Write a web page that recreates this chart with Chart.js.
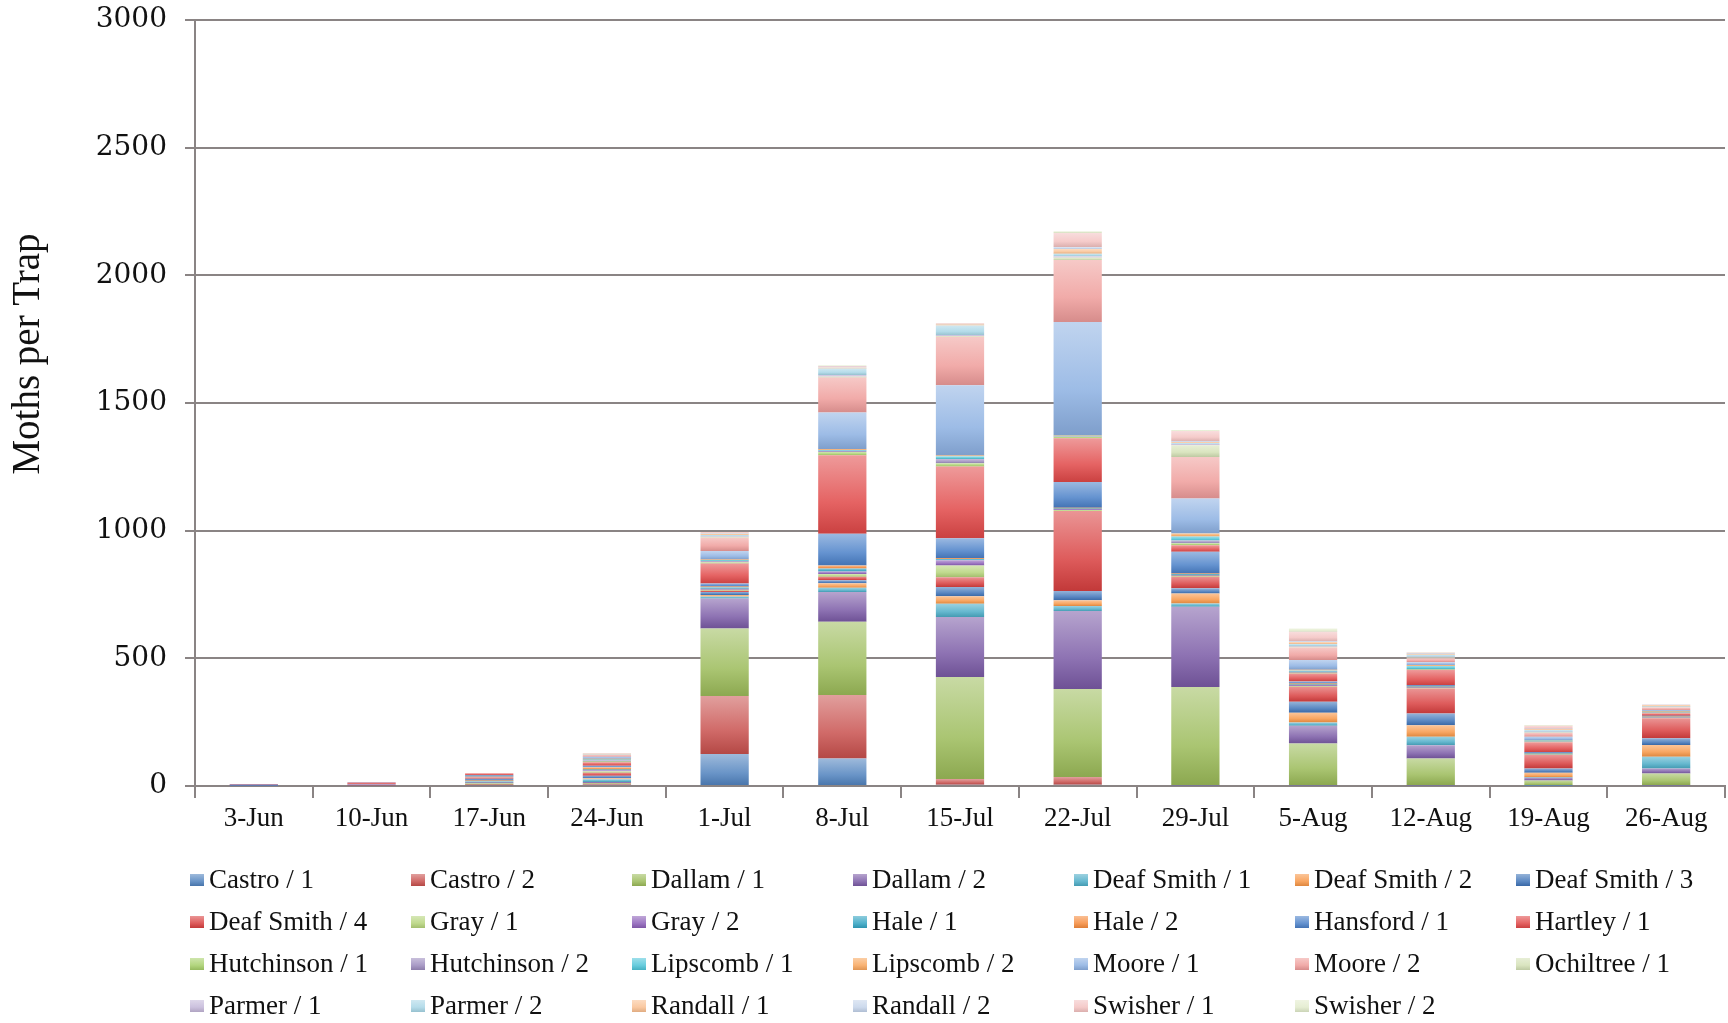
<!DOCTYPE html>
<html>
<head>
<meta charset="utf-8">
<script src="https://cdn.jsdelivr.net/npm/chart.js@4.4.0/dist/chart.umd.min.js"></script>
<style>
html,body{margin:0;padding:0;background:#fff}
#wrap{width:1728px;height:1023px;position:relative}
</style>
</head>
<body>
<div id="wrap"><canvas id="chart"></canvas></div>
<script>
// categories (trap weeks)
var weeks=["3-Jun","10-Jun","17-Jun","24-Jun","1-Jul","8-Jul","15-Jul","22-Jul","29-Jul","5-Aug","12-Aug","19-Aug","26-Aug"];
var yTicks=[0,500,1000,1500,2000,2500,3000];

// moths per trap, one array per county / trap
var castro1   =[1,0,3,5,125,108,5,5,2,2,2,1,2];
var castro2   =[1,3,3,4,227,248,22,30,2,2,2,1,2];
var dallam1   =[0,0,5,3,265,287,400,345,384,162,104,20,45];
var dallam2   =[2,4,3,4,117,117,235,305,314,70,52,10,20];
var deafSmith1=[0,0,5,10,8,16,52,20,13,13,33,2,46];
var deafSmith2=[0,0,3,4,6,18,29,22,39,38,45,18,46];
var deafSmith3=[1,0,6,10,12,12,36,37,20,43,46,17,26];
var deafSmith4=[1,3,6,12,5,14,39,313,46,59,98,52,78];
var gray1     =[0,0,2,6,4,10,46,4,3,3,3,2,2];
var gray2     =[1,0,2,4,4,10,20,3,3,3,3,2,2];
var hale1     =[0,0,2,3,5,12,5,3,3,3,2,2,2];
var hale2     =[0,0,0,8,3,12,3,3,3,3,2,2,2];
var hansford1 =[0,0,2,6,12,124,78,101,85,8,3,3,2];
var hartley1  =[1,3,8,14,78,307,281,171,26,32,59,39,10];
var hutchinson1=[0,0,0,3,5,13,13,6,8,3,2,2,2];
var hutchinson2=[0,2,0,5,5,5,17,2,10,3,2,2,2];
var lipscomb1 =[0,0,0,3,3,3,10,2,16,5,12,3,2];
var lipscomb2 =[0,0,0,3,3,3,3,2,12,3,3,2,3];
var moore1    =[0,0,0,8,33,144,276,443,137,38,12,13,3];
var moore2    =[0,0,0,6,52,137,189,243,163,49,15,15,10];
var ochiltree1=[0,0,0,1,4,4,3,10,46,3,3,2,1];
var parmer1   =[0,0,0,1,3,6,3,5,3,3,3,2,1];
var parmer2   =[0,0,0,1,4,25,39,10,5,8,8,7,2];
var randall1  =[0,0,0,2,5,4,3,18,4,8,3,3,6];
var randall2  =[0,0,0,1,3,3,2,8,3,3,2,2,1];
var swisher1  =[0,0,0,1,3,3,2,55,40,37,4,12,1];
var swisher2  =[0,0,0,0,1,2,1,7,4,13,2,3,0];

var seriesNames=["Castro / 1","Castro / 2","Dallam / 1","Dallam / 2","Deaf Smith / 1","Deaf Smith / 2","Deaf Smith / 3",
  "Deaf Smith / 4","Gray / 1","Gray / 2","Hale / 1","Hale / 2","Hansford / 1","Hartley / 1",
  "Hutchinson / 1","Hutchinson / 2","Lipscomb / 1","Lipscomb / 2","Moore / 1","Moore / 2","Ochiltree / 1",
  "Parmer / 1","Parmer / 2","Randall / 1","Randall / 2","Swisher / 1","Swisher / 2"];
var seriesData=[castro1,castro2,dallam1,dallam2,deafSmith1,deafSmith2,deafSmith3,deafSmith4,gray1,gray2,hale1,hale2,
  hansford1,hartley1,hutchinson1,hutchinson2,lipscomb1,lipscomb2,moore1,moore2,ochiltree1,parmer1,parmer2,
  randall1,randall2,swisher1,swisher2];
var seriesColors=["#4F81BD","#C8504D","#9BBB59","#7A5AA6","#4BACC6","#F79646","#3F74B8",
  "#D83F3F","#B5D37A","#8C5FB8","#31A3C2","#F58B3C","#4A80C8","#E04848",
  "#A5CF68","#9B8BBD","#4DC4D8","#F8A55C","#8CB0E2","#EE9C9A","#D3E0B5",
  "#C3B6D8","#A8D6E6","#F9BF90","#C4D3EA","#F3C2C1","#E2EBCB"];
var yTitle="Moths per Trap";

var gridCol="#8a8484";

function mix(hex,t,to){
  var r=parseInt(hex.substr(1,2),16),g=parseInt(hex.substr(3,2),16),b=parseInt(hex.substr(5,2),16);
  r=Math.round(r+(to-r)*t);g=Math.round(g+(to-g)*t);b=Math.round(b+(to-b)*t);
  return "rgb("+r+","+g+","+b+")";
}
function grad(c,hex,yTop,yBot){
  var g=c.createLinearGradient(0,yTop,0,yBot);
  g.addColorStop(0,mix(hex,0.45,255));
  g.addColorStop(0.6,mix(hex,0.15,255));
  g.addColorStop(1,mix(hex,0.1,0));
  return g;
}

// light-top / dark-bottom fill for each stacked segment
function segFill(ctx){
  var base=seriesColors[ctx.datasetIndex];
  if(ctx.type!=="data") return base;
  var chart=ctx.chart,ys=chart.scales.y;
  if(!ys||!chart.chartArea) return base;
  var di=ctx.datasetIndex,i=ctx.dataIndex,below=0;
  for(var k=0;k<di;k++) below+=seriesData[k][i];
  var yb=ys.getPixelForValue(below),yt=ys.getPixelForValue(below+seriesData[di][i]);
  if(!isFinite(yb)||!isFinite(yt)||yb-yt<1) return base;
  return grad(chart.ctx,base,yt,yb);
}

var datasets=seriesNames.map(function(n,i){
  return {label:n,data:seriesData[i],backgroundColor:segFill,borderWidth:0,
    barPercentage:0.41,categoryPercentage:1.0};
});

// grid legend (7 columns) and the rotated y title
var extras={
  id:"extras",
  afterDraw:function(chart){
    var c=chart.ctx;
    c.save();
    c.font='27px "Liberation Serif"';
    c.textBaseline="middle";
    for(var i=0;i<seriesNames.length;i++){
      var col=i%7,row=Math.floor(i/7);
      var x=190+col*221,y=880+row*42;
      c.fillStyle=grad(c,seriesColors[i],y-6,y+6);
      c.fillRect(x,y-6,14,12);
      c.fillStyle="#111";
      c.fillText(seriesNames[i],x+19,y+1);
    }
    c.translate(29,354);
    c.rotate(-Math.PI/2);
    c.font='39px "Liberation Serif"';
    c.textAlign="center";
    c.fillStyle="#111";
    c.fillText(yTitle,0,0);
    c.restore();
  }
};

new Chart(document.getElementById("chart").getContext("2d"),{
  type:"bar",
  data:{labels:weeks,datasets:datasets},
  options:{
    responsive:true,maintainAspectRatio:false,animation:false,
    layout:{padding:{top:20,right:3,left:0,bottom:0}},
    plugins:{legend:{display:false},tooltip:{enabled:false}},
    scales:{
      x:{stacked:true,
        grid:{display:true,drawOnChartArea:false,drawTicks:true,tickLength:12,color:gridCol,lineWidth:2,offset:true},
        border:{color:gridCol,width:2},
        ticks:{font:{family:"Liberation Serif",size:27},color:"#111",padding:5,maxRotation:0},
        afterFit:function(s){s.height=237;}
      },
      y:{stacked:true,min:0,max:3000,
        afterBuildTicks:function(s){s.ticks=yTicks.map(function(v){return {value:v};});},
        grid:{color:gridCol,lineWidth:2,tickLength:10},
        border:{color:gridCol,width:2},
        ticks:{font:{family:"DejaVu Serif",size:28},color:"#111",padding:18,
          callback:function(v){return String(v);}},
        afterFit:function(s){s.width=195;s.paddingTop=0;s.paddingBottom=0;}
      }
    }
  },
  plugins:[extras]
});
</script>
</body>
</html>
